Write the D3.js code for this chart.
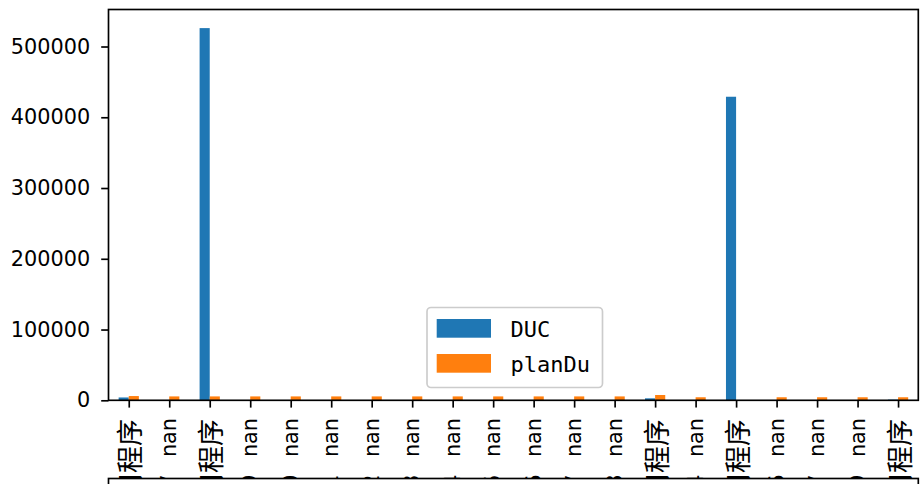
<!DOCTYPE html>
<html>
<head>
<meta charset="utf-8">
<script src="https://cdn.jsdelivr.net/npm/d3@7"></script>
<style>
  html, body { margin: 0; padding: 0; background: #fff; }
  svg { display: block; }
</style>
</head>
<body>
<script>
// ---- data ----
const categories = [
  "应用程序", "2023/5/17  \u2009nan", "应用程序", "2023/5/19  \u2009nan", "2023/5/20  \u2009nan",
  "2023/5/21  \u2009nan", "2023/5/22  \u2009nan", "2023/5/23  \u2009nan", "2023/5/24  \u2009nan", "2023/5/25  \u2009nan",
  "2023/5/26  \u2009nan", "2023/5/27  \u2009nan", "2023/5/28  \u2009nan", "应用程序", "2023/5/24  \u2009nan",
  "应用程序", "2023/5/26  \u2009nan", "2023/5/27  \u2009nan", "2023/5/29  \u2009nan", "应用程序"
];
const seriesNames = ["DUC", "planDu"];
const ducValues = [4000, 0, 526000, 0, 0, 0, 0, 0, 0, 0, 0, 0, 0, 2800, 0, 429000, 0, 0, 0, 1000];
const planDuValues = [6000, 5500, 5500, 5500, 5500, 5500, 5500, 5500, 5500, 5500, 5500, 5500, 5500, 7500, 4300, 0, 4300, 4300, 4300, 4300];
const yTicks = [0, 100000, 200000, 300000, 400000, 500000];
const colors = ["#1f77b4", "#ff7f0e"];

(function () {
// ---- layout ----
const W = 922, H = 484;
const mLeft = 108.5, mRight = 918.3, mTop = 9.5, mBottom = 400.3;

const svg = d3.select("body").append("svg").attr("width", W).attr("height", H);

const x = d3.scaleLinear().domain([-0.5, categories.length - 0.5]).range([mLeft, mRight]);
const yMax = d3.max(ducValues.concat(planDuValues)) * 1.05;
const y = d3.scaleLinear().domain([0, yMax]).range([mBottom, mTop]);

const barW = x(0.25) - x(0);
const series = [ducValues, planDuValues];

series.forEach((vals, si) => {
  svg.append("g").selectAll("rect").data(vals).join("rect")
    .attr("x", (d, i) => x(i) + (si === 0 ? -barW : 0))
    .attr("width", barW)
    .attr("y", d => y(d))
    .attr("height", d => y(0) - y(d))
    .attr("fill", colors[si]);
});

// ---- axes ----
const yAxis = d3.axisLeft(y).tickValues(yTicks).tickSize(7.3).tickPadding(11).tickFormat(d3.format("d"));
const gy = svg.append("g").attr("transform", `translate(${mLeft},0)`).call(yAxis);
gy.select(".domain").remove();
gy.selectAll("line").attr("stroke", "#000").attr("stroke-width", 1.67);
gy.selectAll("text").attr("font-family", "DejaVu Sans").attr("font-size", "20.8px").attr("fill", "#000");

const xAxis = d3.axisBottom(x).tickValues(d3.range(categories.length)).tickSize(7.3).tickFormat("");
const gx = svg.append("g").attr("transform", `translate(0,${mBottom})`).call(xAxis);
gx.select(".domain").remove();
gx.selectAll("line").attr("stroke", "#000").attr("stroke-width", 1.67);

// x tick labels, rotated
const lab = svg.append("g");
categories.forEach((c, i) => {
  const isCJK = /[\u4e00-\u9fff]/.test(c);
  lab.append("text")
    .attr("transform", `translate(${x(i)},${isCJK ? 419 : 418}) rotate(-90)`)
    .attr("text-anchor", "end")
    .attr("dominant-baseline", "central")
    .attr("font-family", isCJK ? "Noto Sans CJK SC" : "DejaVu Sans")
    .attr("font-size", isCJK ? "27px" : "20.8px")
    .style("white-space", "pre")
    .attr("fill", "#000")
    .text(c);
});

// spines
svg.append("rect").attr("x", mLeft).attr("y", mTop).attr("width", mRight - mLeft).attr("height", mBottom - mTop)
  .attr("fill", "none").attr("stroke", "#000").attr("stroke-width", 1.67);

// second subplot frame (cut off at bottom), covers the label ends
svg.append("rect").attr("x", mLeft).attr("y", 478.5).attr("width", mRight - mLeft).attr("height", 40)
  .attr("fill", "#fff").attr("stroke", "#000").attr("stroke-width", 1.67);

// ---- legend ----
const lg = svg.append("g");
lg.append("rect").attr("x", 427).attr("y", 307.5).attr("width", 175.5).attr("height", 80)
  .attr("rx", 4).attr("fill", "#fff").attr("fill-opacity", 0.8)
  .attr("stroke", "#cccccc").attr("stroke-width", 1.67);
seriesNames.forEach((n, i) => {
  lg.append("rect").attr("x", 436.7).attr("y", 319 + i * 35).attr("width", 54.3).attr("height", 18.7)
    .attr("fill", colors[i]);
  lg.append("text").attr("x", 510.5).attr("y", 336.5 + i * 35)
    .attr("font-family", "DejaVu Sans Mono").attr("font-size", "22px").attr("fill", "#000")
    .text(n);
});
})();
</script>
</body>
</html>
